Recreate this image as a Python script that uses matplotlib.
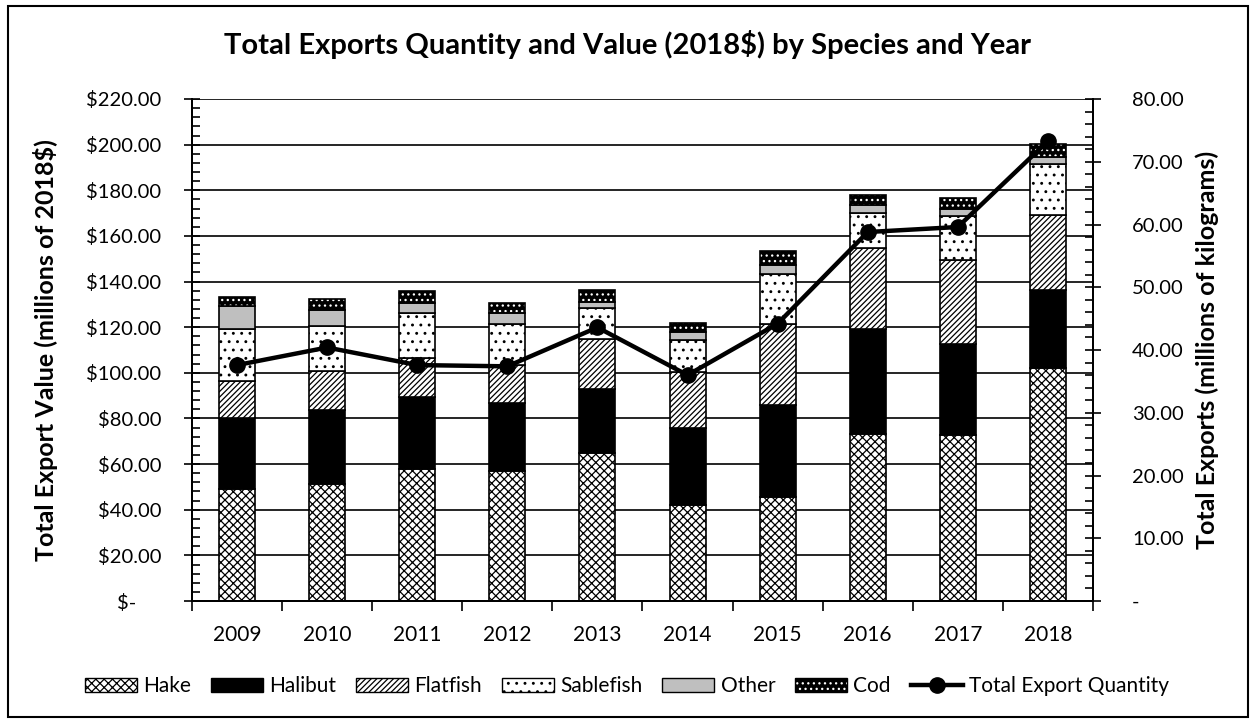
import matplotlib
matplotlib.use("Agg")
import matplotlib.pyplot as plt
from matplotlib.patches import Patch, Rectangle
from matplotlib.lines import Line2D
from matplotlib.legend_handler import HandlerTuple
from matplotlib.ticker import FixedLocator, MultipleLocator, FuncFormatter

plt.rcParams['font.family'] = ['Lato', 'DejaVu Sans']
plt.rcParams['hatch.linewidth'] = 0.9

# data (millions of 2018$, stacked)
years = ['2009', '2010', '2011', '2012', '2013', '2014', '2015', '2016', '2017', '2018']
hake = [48.9, 51.2, 57.7, 56.9, 64.7, 41.9, 45.7, 73.0, 72.6, 102.3]
halibut = [31.1, 32.7, 31.8, 30.0, 28.4, 34.0, 40.4, 46.1, 40.2, 33.9]
flatfish = [16.5, 17.0, 17.2, 16.5, 21.9, 24.5, 35.5, 35.6, 36.8, 33.1]
sablefish = [22.5, 19.7, 19.7, 17.9, 13.2, 14.2, 21.5, 15.4, 19.0, 22.4]
other = [10.2, 7.1, 4.4, 5.1, 2.9, 3.1, 4.2, 3.3, 3.1, 2.9]
cod = [3.9, 4.6, 5.0, 4.4, 5.3, 4.3, 6.0, 4.4, 4.9, 5.8]
# total export quantity (millions of kg)
quantity = [37.6, 40.4, 37.6, 37.4, 43.6, 36.0, 44.2, 58.8, 59.6, 73.3]

HAKE_H = 'xxxx'
FLAT_H = '//////'
SABLE_H = '..'
COD_H = '...'

fig = plt.figure(figsize=(12.54, 7.21), dpi=100)
ax = fig.add_axes([0.1531, 0.1664, 0.8716 - 0.1531, 0.8627 - 0.1664])
ax2 = ax.twinx()

x = list(range(len(years)))
w = 0.4
ec = 'black'
lw = 1.2

bottom = [0] * len(years)
def stack(vals, **kw):
    global bottom
    ax.bar(x, vals, w, bottom=bottom, edgecolor=ec, linewidth=lw, zorder=3, **kw)
    bottom = [b + v for b, v in zip(bottom, vals)]

stack(hake, color='white', hatch=HAKE_H)
stack(halibut, color='black')
stack(flatfish, color='white', hatch=FLAT_H)
stack(sablefish, color='white', hatch=SABLE_H)
stack(other, color='#bfbfbf')
# cod: black fill with white dots, then black outline on top
ax.bar(x, cod, w, bottom=bottom, color='black', edgecolor='white', hatch=COD_H, linewidth=0, zorder=3)
ax.bar(x, cod, w, bottom=bottom, facecolor='none', edgecolor=ec, linewidth=lw, zorder=4)

ax2.plot(x, quantity, color='black', linewidth=3.2, marker='o', markersize=11, zorder=5)

# left axis
ax.set_xlim(-0.5, len(years) - 0.5)
ax.set_ylim(0, 220)
ax.yaxis.set_major_locator(MultipleLocator(20))
ax.yaxis.set_minor_locator(MultipleLocator(4))
ax.yaxis.set_major_formatter(FuncFormatter(lambda v, p: '$-     ' if v == 0 else f'${v:,.2f}'))
ax.tick_params(axis='y', which='major', direction='inout', length=12, width=1.2, labelsize=14.5, pad=16)
ax.tick_params(axis='y', which='minor', direction='in', length=6, width=1.2)
ax.grid(axis='y', which='major', color='black', linewidth=1.2, zorder=0)
ax.set_axisbelow(True)

# x axis: tick marks at category boundaries, labels at centres
ax.xaxis.set_major_locator(FixedLocator([i - 0.5 for i in range(len(years) + 1)]))
ax.xaxis.set_major_formatter(FuncFormatter(lambda v, p: ''))
ax.xaxis.set_minor_locator(FixedLocator(x))
ax.set_xticklabels(years, minor=True)
ax.tick_params(axis='x', which='major', direction='out', length=7, width=1.2)
ax.tick_params(axis='x', which='minor', length=0, labelsize=15, pad=17)

# right axis
ax2.set_ylim(0, 80)
ax2.yaxis.set_major_locator(MultipleLocator(10))
ax2.yaxis.set_minor_locator(MultipleLocator(2))
ax2.yaxis.set_major_formatter(FuncFormatter(lambda v, p: '-' if v == 0 else f'{v:.2f}'))
ax2.tick_params(axis='y', which='major', direction='inout', length=12, width=1.2, labelsize=14.5, pad=22)
ax2.tick_params(axis='y', which='minor', direction='in', length=6, width=1.2)

for a in (ax, ax2):
    a.spines['top'].set_visible(False)
    for s in ('left', 'right', 'bottom'):
        a.spines[s].set_linewidth(1.4)

fig.text(0.5, 0.9376, 'Total Exports Quantity and Value (2018$) by Species and Year',
         ha='center', va='center', fontsize=21, fontweight='bold')
fig.text(0.036, 0.5146, 'Total Export Value (millions of 2018$)', rotation=90,
         ha='center', va='center', fontsize=18, fontweight='bold')
fig.text(0.9625, 0.5146, 'Total Exports (millions of kilograms)', rotation=90,
         ha='center', va='center', fontsize=18, fontweight='bold')

# legend
handles = [
    Patch(facecolor='white', edgecolor='black', hatch=HAKE_H),
    Patch(facecolor='black', edgecolor='black'),
    Patch(facecolor='white', edgecolor='black', hatch=FLAT_H),
    Patch(facecolor='white', edgecolor='black', hatch=SABLE_H),
    Patch(facecolor='#bfbfbf', edgecolor='black'),
    (Patch(facecolor='black', edgecolor='white', hatch=COD_H, linewidth=0),
     Patch(facecolor='none', edgecolor='black')),
    Line2D([], [], color='black', linewidth=3.2, marker='o', markersize=11),
]
labels = ['Hake', 'Halibut', 'Flatfish', 'Sablefish', 'Other', 'Cod', 'Total Export Quantity']
fig.legend(handles, labels, loc='center', bbox_to_anchor=(0.5, 0.0485), ncol=7,
           frameon=False, fontsize=15, handlelength=2.5, handleheight=0.67,
           handletextpad=0.3, columnspacing=0.95,
           handler_map={tuple: HandlerTuple(ndivide=1)})

fig.add_artist(Rectangle((0.0065, 0.006), 0.9885, 0.985, transform=fig.transFigure,
                         fill=False, edgecolor='black', linewidth=1.5))

fig.savefig('out.png', dpi=100)
